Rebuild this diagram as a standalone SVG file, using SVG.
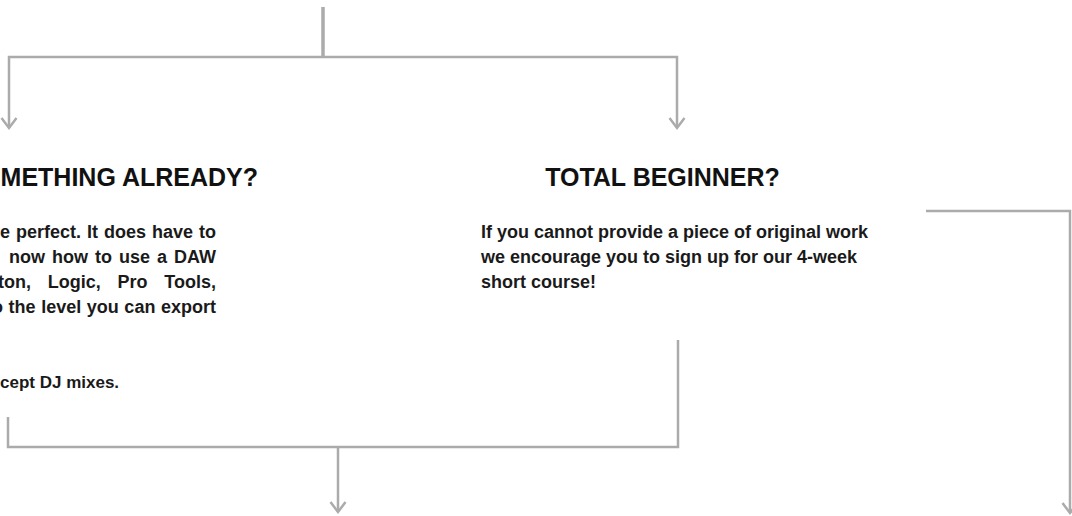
<svg xmlns="http://www.w3.org/2000/svg" width="1072" height="516" viewBox="0 0 1072 516">
<style>
.conn{fill:none;stroke:#ababab;stroke-width:2.5;stroke-linejoin:miter}
.stem{stroke-width:3.5}
.head{font-family:"Liberation Sans",Arial,sans-serif;font-weight:bold;font-size:25px;fill:#111}
.body{font-family:"Liberation Sans",Arial,sans-serif;font-weight:bold;font-size:18px;fill:#1a1a1a}
</style>
<defs>
<marker id="arr" markerUnits="userSpaceOnUse" markerWidth="20" markerHeight="20" viewBox="-12 -10 14 20" refX="0" refY="0" orient="auto" overflow="visible">
<path d="M-10,-7.5 L0,0 L-10,7.5" fill="none" stroke="#ababab" stroke-width="2.5"/>
</marker>
</defs>
<g id="connectors">
<path class="conn stem" d="M323,7 V57"/>
<path class="conn" d="M323,57 H9 V128" marker-end="url(#arr)"/>
<path class="conn" d="M323,57 H677 V128" marker-end="url(#arr)"/>
<path class="conn" d="M8,417 V447 H678 V340"/>
<path class="conn" d="M338,447 V512" marker-end="url(#arr)"/>
<path class="conn" d="M926,211 H1070 V513" marker-end="url(#arr)"/>
</g>
<g id="node-experienced">
<text class="head" x="258" y="186" text-anchor="end">METHING ALREADY?</text>
<text class="body" x="216" y="238" text-anchor="end" word-spacing="1">e perfect. It does have to</text>
<text class="body" x="216" y="263" text-anchor="end" word-spacing="2">now how to use a DAW</text>
<text class="body" x="216" y="288" text-anchor="end" word-spacing="11.8">ton, Logic, Pro Tools,</text>
<text class="body" x="216" y="313" text-anchor="end" word-spacing="0.6">o the level you can export</text>
<text class="body" x="0" y="388" style="font-size:17px">cept DJ mixes.</text>
</g>
<g id="node-beginner">
<text class="head" x="662.5" y="186" text-anchor="middle">TOTAL BEGINNER?</text>
<text class="body" x="481" y="238">If you cannot provide a piece of original work</text>
<text class="body" x="481" y="263">we encourage you to sign up for our 4-week</text>
<text class="body" x="481" y="288">short course!</text>
</g>
</svg>
